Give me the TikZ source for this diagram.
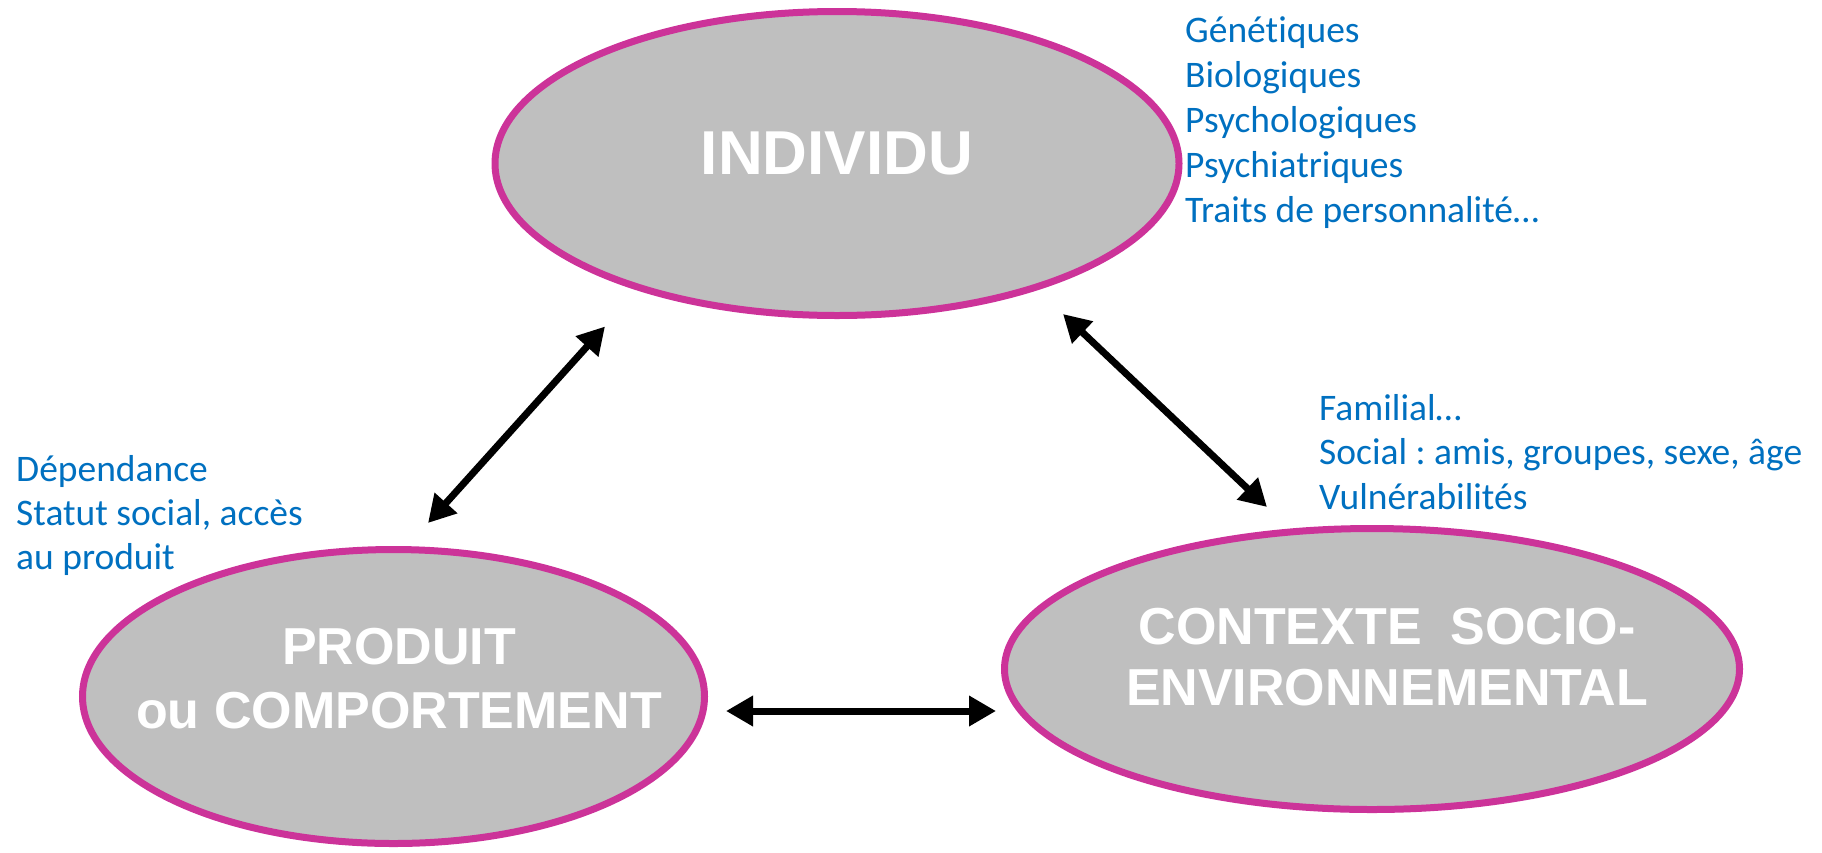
\documentclass[tikz,border=0pt]{standalone}
\usepackage{fontspec}
\setmainfont{Carlito}[Ligatures={NoCommon,NoContextual,NoRequired}, Contextuals=NoAlternate]
\newfontfamily\headfont{Liberation Sans}
\usetikzlibrary{shapes.geometric, arrows.meta}
\definecolor{ringpink}{HTML}{CC3399}
\definecolor{discgray}{HTML}{BFBFBF}
\definecolor{noteblue}{HTML}{0070C0}
\frenchspacing
\tikzset{
  factor/.style={ellipse, draw=ringpink, fill=discgray, line width=7pt, inner sep=0pt},
  factortext/.style={text=white, align=center, inner sep=0pt,
    font=\headfont\bfseries\fontsize{52}{64}\selectfont},
  note/.style={anchor=base west, text=noteblue, inner sep=0pt,
    font=\fontsize{37.5}{45}\selectfont},
  link/.style={line width=7pt,
    {Triangle[length=27pt,width=29pt]}-{Triangle[length=27pt,width=29pt]}},
}
\begin{document}
\begin{tikzpicture}[x=1pt, y=-1pt]
    \useasboundingbox (0,0) rectangle (1822,852);
    % INDIVIDU
    \node[factor, minimum width=684pt, minimum height=304pt] (indiv) at (837,163.5) {};
    \node[factortext, font=\headfont\bfseries\fontsize{62}{70}\selectfont] (indivtxt) at (837,153) {INDIVIDU};
    % PRODUIT
    \node[factor, minimum width=622pt, minimum height=294pt] (prod) at (393.5,696.5) {};
    \node[factortext] (prodtxt) at (399,679) {PRODUIT\\ou COMPORTEMENT};
    % CONTEXTE
    \node[factor, minimum width=735pt, minimum height=281pt] (ctx) at (1372,669) {};
    \node[factortext, font=\headfont\bfseries\fontsize{52}{61}\selectfont] (ctxtxt) at (1387,657.5) {CONTEXTE\ \ SOCIO-\\ENVIRONNEMENTAL};
    % notes
    \foreach \lbl [count=\i] in {Génétiques, Biologiques, Psychologiques, Psychiatriques, Traits de personnalité…}
        \node[note] (indnote\i) at (1185,{42+45*(\i-1)}) {\lbl};
    \foreach \lbl [count=\i] in {Dépendance, {Statut social, accès}, au produit}
        \node[note] (prodnote\i) at (16,{481+44*(\i-1)}) {\lbl};
    \foreach \lbl [count=\i] in {Familial…, {Social : amis, groupes, sexe, âge}, Vulnérabilités}
        \node[note] (ctxnote\i) at (1319,{420+44.5*(\i-1)}) {\lbl};
    % arrows
    \coordinate (ip) at (605,326.5);
    \coordinate (pi) at (428,523);
    \coordinate (ic) at (1063,314);
    \coordinate (ci) at (1267,507);
    \coordinate (pc) at (726,711);
    \coordinate (cp) at (996,711);
    \draw[link] (ip) -- (pi);
    \draw[link] (ic) -- (ci);
    \draw[link] (pc) -- (cp);
\end{tikzpicture}
\end{document}
